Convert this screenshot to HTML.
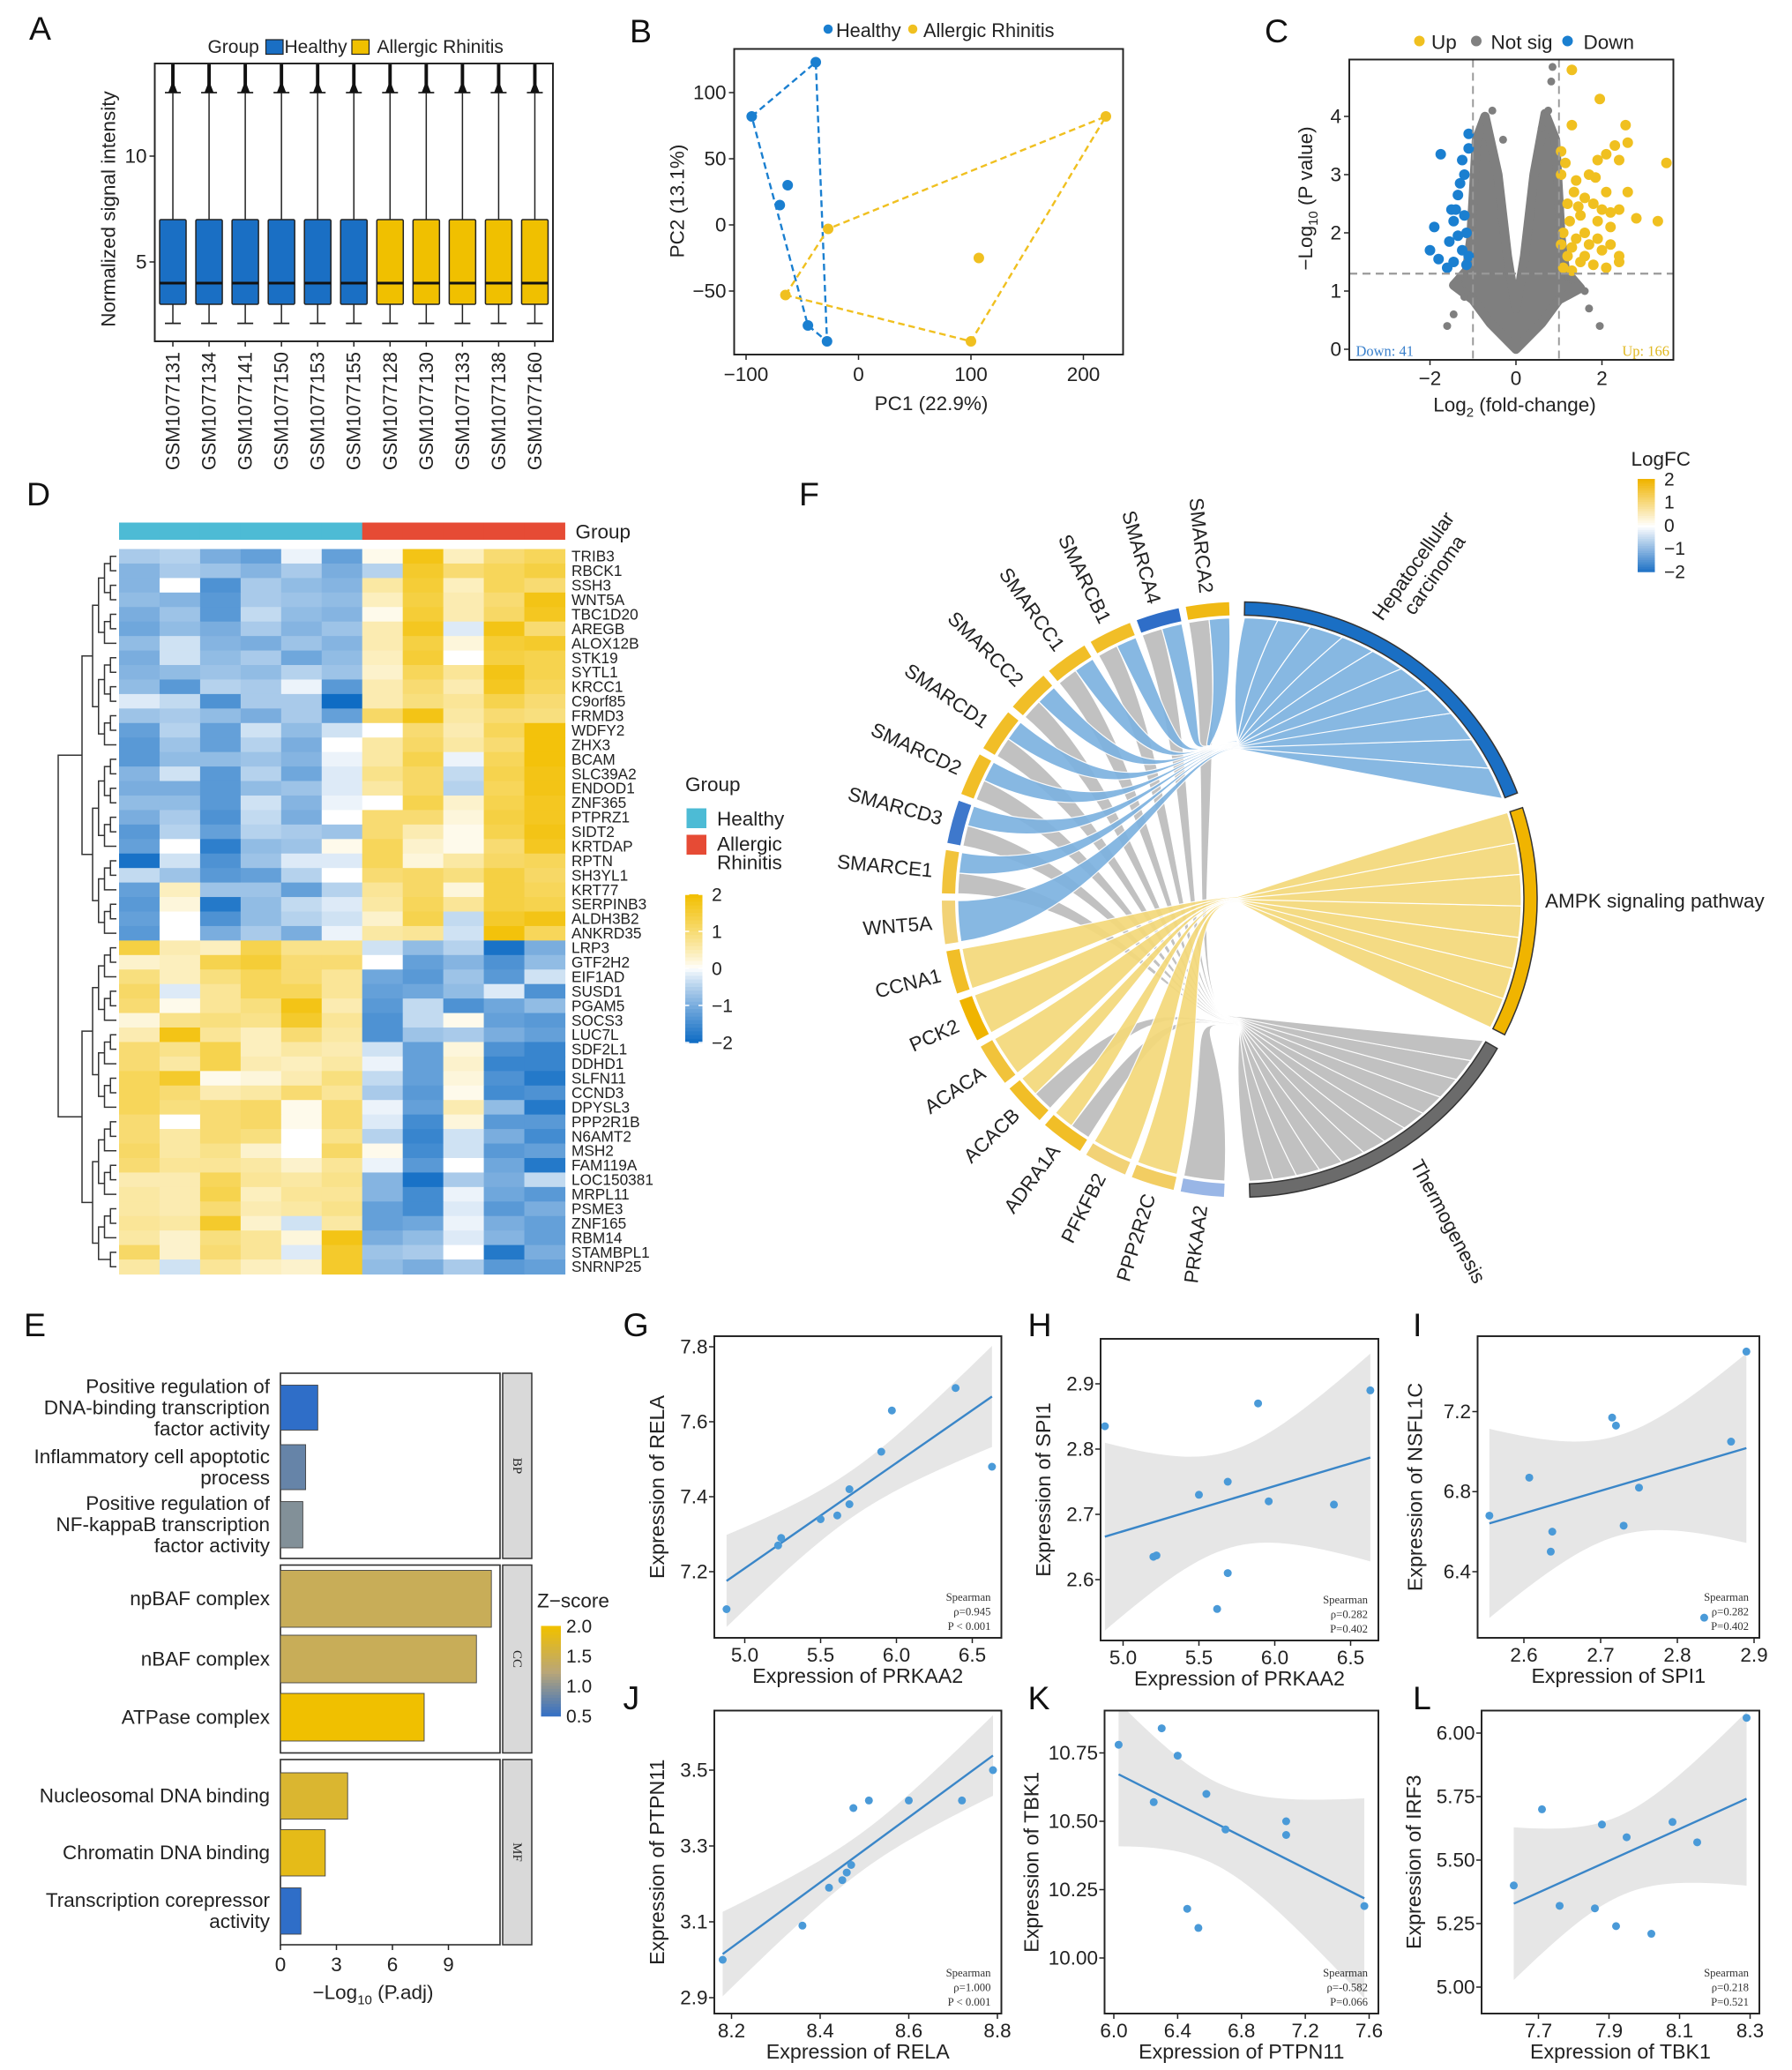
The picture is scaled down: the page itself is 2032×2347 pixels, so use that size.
<!DOCTYPE html>
<html><head><meta charset="utf-8"><style>
html,body{margin:0;padding:0;background:#fff}
svg{display:block;font-family:"Liberation Sans",Arial,sans-serif}
.t{font-size:14px;fill:#222}
.pl{font-size:25px;fill:#111}
.sv{font-family:"Liberation Serif",serif}
</style></head><body>
<svg id="fig" width="2032" height="2347" viewBox="0 0 1354.67 1564.67" xmlns="http://www.w3.org/2000/svg">
<rect width="1354.67" height="1564.67" fill="#fff"/>
<text class="pl" x="22" y="30">A</text>
<text class="pl" x="476" y="32">B</text>
<text class="pl" x="956" y="32">C</text>
<text class="pl" x="20" y="382">D</text>
<text class="pl" x="604" y="382">F</text>
<text class="pl" x="18" y="1010">E</text>
<text class="pl" x="471" y="1010">G</text>
<text class="pl" x="777" y="1010">H</text>
<text class="pl" x="1068" y="1010">I</text>
<text class="pl" x="471" y="1292">J</text>
<text class="pl" x="777" y="1292">K</text>
<text class="pl" x="1068" y="1292">L</text>
<g id="gA"></g>
<g id="gB"></g>
<g id="gC"></g>
<g id="gD"></g>
<g id="gE"></g>
<g id="gF"></g>
<g id="gS"></g>
</svg>
<script>
// ---------- data ----------
const sampleNames=["GSM1077131","GSM1077134","GSM1077141","GSM1077150","GSM1077153","GSM1077155","GSM1077128","GSM1077130","GSM1077133","GSM1077138","GSM1077160"];
const sampleGroup=[0,0,0,0,0,0,1,1,1,1,1];
const boxQ1=[3.0,3.0,3.0,3.0,3.0,3.0,3.0,3.0,3.0,3.0,3.0];
const boxMed=[4.0,4.0,4.0,4.0,4.0,4.0,4.0,4.0,4.0,4.0,4.0];
const boxQ3=[7.0,7.0,7.0,7.0,7.0,7.0,7.0,7.0,7.0,7.0,7.0];
const boxLo=[2.1,2.1,2.1,2.1,2.1,2.1,2.1,2.1,2.1,2.1,2.1];
const boxHi=[13.0,13.0,13.0,13.0,13.0,13.0,13.0,13.0,13.0,13.0,13.0];
const boxMax=[14.4,14.4,14.4,14.4,14.4,14.4,14.4,14.4,14.4,14.4,14.4];
const boxYTicks=[5,10];

const pcaHealthyX=[-95,-38,-28,-45,-63,-70];
const pcaHealthyY=[82,123,-88,-76,30,15];
const pcaARX=[-65,-27,220,100,107];
const pcaARY=[-53,-3,82,-88,-25];
const pcaHullH=[0,1,2,3];
const pcaHullA=[0,1,2,3];
const pcaXTicks=[-100,0,100,200];
const pcaYTicks=[-50,0,50,100];

const upX=[1.3,1.95,1.3,2.55,2.6,2.3,1.05,3.5,2.1,1.9,2.4,1.05,1.85,1.4,2.6,2.1,1.6,2.4,3.3,2.8,1.2,1.5,1.9,2.2,1.1,1.4,1.7,2.0,2.4,2.4,1.2,1.5,1.8,1.1,1.3,2.1,1.6,1.25,1.8,1.35,2.2,1.05,1.15,1.7,1.9,1.3,2.0,1.45,1.6,2.2];
const upY=[4.8,4.3,3.85,3.85,3.55,3.5,3.4,3.2,3.35,3.25,3.25,3.0,2.95,2.9,2.7,2.7,2.6,2.4,2.2,2.25,2.5,2.3,2.2,2.1,2.0,1.9,1.8,1.7,1.6,1.5,1.6,1.5,1.45,1.4,1.35,1.4,2.0,2.2,2.5,2.7,2.35,1.8,3.2,3.0,1.9,1.75,2.4,2.45,1.6,1.8];
const downX=[-1.1,-1.1,-1.75,-1.25,-1.2,-1.3,-1.35,-1.5,-1.4,-1.2,-1.9,-1.45,-1.15,-1.35,-1.55,-2.0,-1.8,-1.45,-1.15,-1.6,-1.25,-1.1];
const downY=[3.7,3.45,3.35,3.25,3.0,2.85,2.65,2.4,2.4,2.3,2.1,2.2,2.0,1.95,1.85,1.7,1.55,1.5,1.45,1.4,1.7,1.6];
const nsShapeX=[0,-0.6,-1.0,-1.45,-1.15,-1.05,-0.98,-0.92,-0.72,-0.42,-0.2,0,0.2,0.42,0.68,0.92,0.98,1.05,1.15,1.5,1.0,0.6];
const nsShapeY=[0,0.45,0.85,1.1,1.35,1.9,2.8,3.6,4.0,3.0,1.6,0.7,1.6,3.0,4.05,3.6,2.8,1.9,1.35,1.05,0.85,0.45];
const nsX=[-0.55,-0.3,0.75,0.85,0.82,-1.45,-1.2,1.3,1.95,1.6,-0.7,0.6,-1.6,1.7,-1.3,1.2];
const nsY=[4.1,3.6,4.1,4.85,4.6,0.6,0.9,1.2,0.4,1.0,3.9,3.8,0.4,0.7,1.25,1.25];
const vXTicks=[-2,0,2];
const vYTicks=[0,1,2,3,4];

const geneRows=["TRIB3","RBCK1","SSH3","WNT5A","TBC1D20","AREGB","ALOX12B","STK19","SYTL1","KRCC1","C9orf85","FRMD3","WDFY2","ZHX3","BCAM","SLC39A2","ENDOD1","ZNF365","PTPRZ1","SIDT2","KRTDAP","RPTN","SH3YL1","KRT77","SERPINB3","ALDH3B2","ANKRD35","LRP3","GTF2H2","EIF1AD","SUSD1","PGAM5","SOCS3","LUC7L","SDF2L1","DDHD1","SLFN11","CCND3","DPYSL3","PPP2R1B","N6AMT2","MSH2","FAM119A","LOC150381","MRPL11","PSME3","ZNF165","RBM14","STAMBPL1","SNRNP25"];
const heatValues=[
[-0.6,-0.5,-1.0,-1.2,-0.1,-1.2,0.1,1.8,0.4,1.0,1.2],
[-0.9,-0.6,-0.7,-0.9,-0.6,-1.0,-0.5,1.6,1.0,1.2,1.4],
[-0.9,0.0,-1.4,-0.6,-0.8,-0.9,0.6,1.5,0.4,1.2,1.0],
[-0.8,-0.9,-1.3,-0.6,-0.7,-0.8,0.4,1.4,0.5,1.0,1.8],
[-1.0,-0.7,-1.3,-0.4,-0.8,-0.9,0.1,1.5,0.5,1.1,1.7],
[-1.1,-0.8,-1.0,-0.6,-0.9,-0.7,0.5,1.7,-0.2,1.8,1.0],
[-0.8,-0.3,-0.9,-1.0,-0.7,-0.9,0.5,1.4,0.2,1.5,1.6],
[-1.0,-0.3,-0.8,-0.6,-1.1,-0.8,0.4,1.5,0.0,1.4,1.3],
[-0.9,-0.8,-0.7,-0.8,-0.5,-0.7,0.3,1.2,0.7,1.8,1.3],
[-0.8,-1.3,-0.5,-0.6,-0.1,-1.3,0.5,1.0,0.5,1.7,1.2],
[-0.2,-0.4,-1.4,-0.6,-0.6,-2.0,0.5,0.9,0.7,1.3,1.0],
[-0.7,-0.6,-0.8,-1.0,-0.6,-1.2,1.1,1.8,0.6,1.0,0.9],
[-1.2,-0.5,-1.2,-0.3,-0.8,-0.3,0.0,1.0,0.5,1.2,1.9],
[-1.3,-0.7,-1.2,-0.5,-1.0,0.0,0.6,1.1,0.6,1.0,1.9],
[-1.3,-0.8,-0.8,-0.7,-0.9,-0.1,0.6,1.3,-0.1,1.2,1.9],
[-0.9,-0.3,-1.3,-0.5,-1.1,-0.2,0.8,1.1,-0.4,1.3,1.8],
[-1.0,-1.0,-1.3,-0.8,-0.7,-0.2,0.6,1.1,-0.5,1.2,1.8],
[-0.8,-0.8,-1.3,-0.3,-0.9,-0.1,0.0,1.3,0.3,1.3,1.7],
[-1.0,-0.6,-1.4,-0.4,-1.0,0.0,1.0,1.0,0.2,1.4,1.7],
[-1.3,-0.5,-1.2,-0.5,-0.6,-0.7,1.0,0.5,0.1,1.3,1.8],
[-1.2,0.0,-1.7,-0.8,-0.7,0.1,1.2,0.3,0.1,1.0,1.7],
[-1.9,-0.3,-1.4,-0.7,-0.2,-0.2,1.2,0.2,0.6,1.1,1.2],
[-0.4,-0.7,-1.3,-1.2,-0.5,0.0,1.0,1.1,0.9,1.4,1.1],
[-1.2,0.4,-0.7,-0.7,-1.2,-0.5,0.7,1.1,0.2,1.4,1.2],
[-1.3,0.2,-1.8,-0.8,-0.4,-0.2,0.6,1.2,0.7,1.4,1.3],
[-1.2,0.0,-1.4,-0.8,-0.5,-0.3,0.3,1.3,-0.4,1.6,1.8],
[-1.3,0.0,-1.0,-0.6,-1.0,-0.1,0.6,0.7,-0.3,1.9,1.2],
[1.4,0.5,0.4,1.3,0.8,0.8,-0.3,-0.8,-0.5,-1.9,-1.0],
[0.3,0.4,1.3,1.5,1.0,1.0,0.0,-1.2,-0.9,-1.4,-0.8],
[0.9,0.4,0.9,1.2,1.0,0.7,-1.1,-1.3,-0.7,-1.3,-0.3],
[1.1,-0.2,0.7,1.2,1.2,0.7,-1.2,-1.1,-0.8,-0.2,-1.4],
[1.0,0.1,0.7,0.9,1.8,0.5,-1.3,-0.4,-1.4,-1.1,-0.8],
[0.2,0.8,0.9,0.8,1.6,0.7,-1.4,-0.4,0.1,-1.2,-1.3],
[0.5,1.8,0.7,0.4,1.0,0.6,-1.4,-0.7,-0.6,-1.0,-1.2],
[1.0,0.8,1.3,0.4,0.6,0.5,-0.3,-1.2,0.2,-1.4,-1.6],
[1.0,0.6,1.3,0.5,0.4,0.6,-0.1,-1.2,0.3,-1.6,-1.6],
[1.2,1.6,0.1,0.2,0.5,0.9,-0.4,-1.2,0.2,-1.4,-1.8],
[1.2,1.0,0.5,0.6,1.0,0.7,-0.6,-1.3,0.1,-1.5,-1.4],
[1.2,0.9,1.0,1.1,0.1,1.0,-0.1,-1.2,0.5,-0.8,-1.8],
[1.0,0.0,1.0,1.1,0.1,1.0,-0.2,-1.5,0.2,-1.3,-1.3],
[1.0,0.6,1.0,0.9,0.0,0.8,-0.5,-1.6,-0.3,-1.0,-1.5],
[1.1,0.6,0.8,0.3,0.0,1.1,0.1,-1.5,-0.3,-1.3,-1.2],
[1.0,0.7,0.7,0.6,0.3,0.7,-0.1,-1.3,0.0,-1.1,-1.8],
[0.5,0.5,1.2,0.7,0.6,0.8,-0.9,-1.9,-0.6,-1.0,-0.4],
[0.6,0.5,1.3,0.4,0.7,0.7,-0.9,-1.5,-0.1,-1.1,-1.3],
[0.6,0.5,1.0,0.5,0.6,0.8,-1.2,-1.5,-0.2,-1.3,-1.0],
[0.7,0.6,1.6,0.3,-0.3,0.6,-1.2,-1.1,-0.1,-1.0,-1.2],
[0.6,0.3,0.9,0.7,0.2,1.8,-1.0,-0.8,-0.2,-0.9,-1.2],
[1.1,0.3,1.0,0.7,-0.2,1.6,-0.7,-0.6,0.0,-1.8,-1.0],
[0.6,-0.3,0.7,0.4,0.3,1.6,-0.8,-1.0,-0.6,-1.3,-1.2]];
const heatLegendTicks=[2,1,0,-1,-2];

const enrichTerms=[["Positive regulation of","DNA-binding transcription","factor activity"],["Inflammatory cell apoptotic","process"],["Positive regulation of","NF-kappaB transcription","factor activity"],["npBAF complex"],["nBAF complex"],["ATPase complex"],["Nucleosomal DNA binding"],["Chromatin DNA binding"],["Transcription corepressor","activity"]];
const enrichValues=[2.0,1.35,1.2,11.3,10.5,7.7,3.6,2.4,1.1];
const enrichZ=[0.5,0.8,0.95,1.45,1.45,2.0,1.7,1.85,0.5];
const enrichFacet=[0,0,0,1,1,1,2,2,2];
const facetNames=["BP","CC","MF"];
const enrichXTicks=[0,3,6,9];
const zTicks=[2.0,1.5,1.0,0.5];

const chordGenes=["PRKAA2","PPP2R2C","PFKFB2","ADRA1A","ACACB","ACACA","PCK2","CCNA1","WNT5A","SMARCE1","SMARCD3","SMARCD2","SMARCD1","SMARCC2","SMARCC1","SMARCB1","SMARCA4","SMARCA2"];
const chordGeneFC=[-0.6,0.8,0.7,1.1,1.1,1.0,1.3,1.1,0.7,1.0,-1.2,1.1,1.1,1.1,1.1,1.1,-1.4,1.2];
const chordPathways=["Hepatocellular carcinoma","AMPK signaling pathway","Thermogenesis"];
const linkGene=[0,1,2,3,3,4,4,5,6,7,8,9,9,10,10,11,11,12,12,13,13,14,14,15,15,16,16,17,17];
const linkPath=[2,1,1,1,2,1,2,1,1,1,0,0,2,0,2,0,2,0,2,0,2,0,2,0,2,0,2,0,2];
const fcTicks=[2,1,0,-1,-2];

const scatterDefs=[
 {id:"g",x:[4.88,5.22,5.24,5.50,5.61,5.69,5.69,5.90,5.97,6.39,6.63],y:[7.10,7.27,7.29,7.34,7.35,7.38,7.42,7.52,7.63,7.69,7.48]},
 {id:"h",x:[4.88,5.20,5.22,5.50,5.62,5.69,5.69,5.89,5.96,6.39,6.63],y:[2.835,2.635,2.637,2.73,2.555,2.75,2.61,2.87,2.72,2.715,2.89]},
 {id:"i",x:[2.555,2.607,2.635,2.637,2.715,2.72,2.73,2.75,2.835,2.87,2.89],y:[6.68,6.87,6.50,6.60,7.17,7.13,6.63,6.82,6.17,7.05,7.50]},
 {id:"j",x:[8.18,8.36,8.42,8.45,8.46,8.47,8.475,8.51,8.60,8.72,8.79],y:[3.00,3.09,3.19,3.21,3.23,3.25,3.40,3.42,3.42,3.42,3.50]},
 {id:"k",x:[6.03,6.25,6.30,6.40,6.46,6.53,6.58,6.70,7.08,7.08,7.57],y:[10.78,10.57,10.84,10.74,10.18,10.11,10.60,10.47,10.50,10.45,10.19]},
 {id:"l",x:[7.63,7.71,7.76,7.86,7.88,7.92,7.95,8.02,8.08,8.15,8.29],y:[5.40,5.70,5.32,5.31,5.64,5.24,5.59,5.21,5.65,5.57,6.06]}];
const scatterXTicks=[[5.0,5.5,6.0,6.5],[5.0,5.5,6.0,6.5],[2.6,2.7,2.8,2.9],[8.2,8.4,8.6,8.8],[6.0,6.4,6.8,7.2,7.6],[7.7,7.9,8.1,8.3]];
const scatterYTicks=[[7.2,7.4,7.6,7.8],[2.6,2.7,2.8,2.9],[6.4,6.8,7.2],[2.9,3.1,3.3,3.5],[10.00,10.25,10.50,10.75],[5.00,5.25,5.50,5.75,6.00]];
const scatterStats=[["0.945","P < 0.001"],["0.282","P=0.402"],["0.282","P=0.402"],["1.000","P < 0.001"],["-0.582","P=0.066"],["0.218","P=0.521"]];
const scatterXTitle=["Expression of PRKAA2","Expression of PRKAA2","Expression of SPI1","Expression of RELA","Expression of PTPN11","Expression of TBK1"];
const scatterYTitle=["Expression of RELA","Expression of SPI1","Expression of NSFL1C","Expression of PTPN11","Expression of TBK1","Expression of IRF3"];

// ---------- helpers ----------
const NS="http://www.w3.org/2000/svg";
function mk(tag,attrs,parent){const e=document.createElementNS(NS,tag);for(const k in attrs)e.setAttribute(k,attrs[k]);parent.appendChild(e);return e;}
function lin(d0,d1,r0,r1){return v=>r0+(v-d0)*(r1-r0)/(d1-d0);}
function txt(parent,x,y,s,size,anchor,extra){const e=mk("text",Object.assign({x:x,y:y,"font-size":size,"text-anchor":anchor||"start",fill:"#222"},extra||{}),parent);e.textContent=s;return e;}
function mix(a,b,t){const pa=[parseInt(a.slice(1,3),16),parseInt(a.slice(3,5),16),parseInt(a.slice(5,7),16)],pb=[parseInt(b.slice(1,3),16),parseInt(b.slice(3,5),16),parseInt(b.slice(5,7),16)];return "rgb("+pa.map((v,i)=>Math.round(v+(pb[i]-v)*t)).join(",")+")";}
function heatCol(v){v=Math.max(-2,Math.min(2,v));return v>=0?mix("#ffffff","#f2bf00",Math.pow(v/2,0.85)):mix("#ffffff","#0f6cc4",Math.pow(-v/2,0.85));}

// ---------- Panel A ----------
(function(){
const g=document.getElementById("gA");
const X0=117,X1=418,Y0=48,Y1=258;
const ys=lin(0,10,278,118);
const step=(X1-X0)/sampleNames.length;
const bw=20;
txt(g,157,40,"Group",14);
let r=mk("rect",{x:201,y:30,width:13,height:11,fill:"#1a6fc4",stroke:"#222","stroke-width":0.8},g);


txt(g,215,40,"Healthy",14);
r=mk("rect",{x:266,y:30,width:13,height:11,fill:"#f0c000",stroke:"#222","stroke-width":0.8},g);


txt(g,285,40,"Allergic Rhinitis",14);
sampleNames.forEach((nm,i)=>{
 const cx=X0+step*(i+0.5);
 const col=sampleGroup[i]?"#f0c000":"#1a6fc4";
 const gb=mk("g",{},g);
 
 
 mk("line",{x1:cx,x2:cx,y1:ys(boxLo[i]),y2:ys(boxHi[i]),stroke:"#222","stroke-width":1},gb);
 mk("line",{x1:cx-6,x2:cx+6,y1:ys(boxLo[i]),y2:ys(boxLo[i]),stroke:"#222","stroke-width":1.2},gb);
 mk("line",{x1:cx-6,x2:cx+6,y1:ys(boxHi[i]),y2:ys(boxHi[i]),stroke:"#222","stroke-width":1.2},gb);
 mk("line",{x1:cx,x2:cx,y1:ys(boxHi[i]),y2:ys(boxMax[i]),stroke:"#111","stroke-width":2.6},gb);
 mk("polygon",{points:(cx-3.5)+","+ys(boxHi[i])+" "+(cx+3.5)+","+ys(boxHi[i])+" "+cx+","+(ys(boxHi[i])-9),fill:"#111"},gb);
 mk("rect",{x:cx-bw/2,y:ys(boxQ3[i]),width:bw,height:ys(boxQ1[i])-ys(boxQ3[i]),fill:col,stroke:"#222","stroke-width":1,rx:1},gb);
 mk("line",{x1:cx-bw/2,x2:cx+bw/2,y1:ys(boxMed[i]),y2:ys(boxMed[i]),stroke:"#111","stroke-width":2},gb);
 mk("line",{x1:cx,x2:cx,y1:Y1,y2:Y1+4,stroke:"#222"},g);
 const t=txt(g,cx+5,Y1+8,nm,14.5,"end",{transform:"rotate(-90 "+(cx+5)+" "+(Y1+8)+")"});
 
 
});
const fr=mk("rect",{x:X0,y:Y0,width:X1-X0,height:Y1-Y0,fill:"none",stroke:"#222","stroke-width":1.3},g);


boxYTicks.forEach(v=>{mk("line",{x1:X0-4,x2:X0,y1:ys(v),y2:ys(v),stroke:"#222"},g);
 const t=txt(g,X0-6,ys(v)+5,String(v),15,"end");
 
 });
const yt=txt(g,87,158,"Normalized signal intensity",15,"middle",{transform:"rotate(-90 87 158)"});


})();

// ---------- Panel B ----------
(function(){
const g=document.getElementById("gB");
const X0=555,X1=849,Y0=37,Y1=268;
const xs=lin(0,100,649,734), ys=lin(0,100,170,70);
mk("circle",{cx:626,cy:22,r:3.5,fill:"#1a7fd0"},g);
txt(g,632,28,"Healthy",14.5);
mk("circle",{cx:690,cy:22,r:3.5,fill:"#f0c020"},g);
txt(g,698,28,"Allergic Rhinitis",14.5);
function hull(px,py,idx,col,name){const p=idx.map(i=>xs(px[i])+","+ys(py[i])).join(" ");
 const e=mk("polygon",{points:p,fill:"none",stroke:col,"stroke-width":1.6,"stroke-dasharray":"5,3"},g);
 
 }
hull(pcaHealthyX,pcaHealthyY,pcaHullH,"#1a7fd0","healthy-hull");
hull(pcaARX,pcaARY,pcaHullA,"#f0c020","ar-hull");
pcaHealthyX.forEach((v,i)=>{const c=mk("circle",{cx:xs(v),cy:ys(pcaHealthyY[i]),r:4,fill:"#1a7fd0"},g);
 
 });
pcaARX.forEach((v,i)=>{const c=mk("circle",{cx:xs(v),cy:ys(pcaARY[i]),r:4,fill:"#f0c020"},g);
 
 });
const fr=mk("rect",{x:X0,y:Y0,width:X1-X0,height:Y1-Y0,fill:"none",stroke:"#222","stroke-width":1.3},g);


pcaXTicks.forEach(v=>{mk("line",{x1:xs(v),x2:xs(v),y1:Y1,y2:Y1+4,stroke:"#222"},g);
 const t=txt(g,xs(v),Y1+20,v<0?"\u2212"+(-v):String(v),15,"middle");
 
 });
pcaYTicks.forEach(v=>{mk("line",{x1:X0-4,x2:X0,y1:ys(v),y2:ys(v),stroke:"#222"},g);
 const t=txt(g,X0-6,ys(v)+5,v<0?"\u2212"+(-v):String(v),15,"end");
 
 });
const xt=txt(g,704,310,"PC1 (22.9%)",15,"middle");


const yt=txt(g,517,152,"PC2 (13.1%)",15,"middle",{transform:"rotate(-90 517 152)"});


})();

// ---------- Panel C ----------
(function(){
const g=document.getElementById("gC");
const X0=1020,X1=1265,Y0=45,Y1=272;
const xs=lin(0,2,1146,1211), ys=lin(0,4,264,88);
mk("circle",{cx:1073,cy:31,r:4,fill:"#f0c020"},g); txt(g,1082,37,"Up",15);
mk("circle",{cx:1116,cy:31,r:4,fill:"#808080"},g); txt(g,1127,37,"Not sig",15);
mk("circle",{cx:1185,cy:31,r:4,fill:"#1a7fd0"},g); txt(g,1197,37,"Down",15);
const cp=mk("clipPath",{id:"clipC"},g); mk("rect",{x:X0,y:Y0,width:X1-X0,height:Y1-Y0},cp);
const inner=mk("g",{"clip-path":"url(#clipC)"},g);
const sh=mk("polygon",{points:nsShapeX.map((v,i)=>xs(v)+","+ys(nsShapeY[i])).join(" "),fill:"#7f7f7f",stroke:"#7f7f7f","stroke-width":7,"stroke-linejoin":"round"},inner);


nsX.forEach((v,i)=>{const c=mk("circle",{cx:xs(v),cy:ys(nsY[i]),r:3,fill:"#7f7f7f"},inner);
 
 });
upX.forEach((v,i)=>{const c=mk("circle",{cx:xs(v),cy:ys(upY[i]),r:4,fill:"#f0c020"},inner);
 
 });
downX.forEach((v,i)=>{const c=mk("circle",{cx:xs(v),cy:ys(downY[i]),r:4,fill:"#1a7fd0"},inner);
 
 });
[-1,1].forEach(v=>mk("line",{x1:xs(v),x2:xs(v),y1:Y0,y2:Y1,stroke:"#999","stroke-width":1.3,"stroke-dasharray":"6,4"},g));
mk("line",{x1:X0,x2:X1,y1:ys(1.3),y2:ys(1.3),stroke:"#999","stroke-width":1.5,"stroke-dasharray":"6,4"},g);
const fr=mk("rect",{x:X0,y:Y0,width:X1-X0,height:Y1-Y0,fill:"none",stroke:"#222","stroke-width":1.3},g);


txt(g,1025,269,"Down: 41",11,"start",{fill:"#3a80cc","class":"sv"});
txt(g,1262,269,"Up: 166",11,"end",{fill:"#e0b820","class":"sv"});
vXTicks.forEach(v=>{mk("line",{x1:xs(v),x2:xs(v),y1:Y1,y2:Y1+4,stroke:"#222"},g);
 const t=txt(g,xs(v),Y1+19,v<0?"\u2212"+(-v):String(v),15,"middle");
 
 });
vYTicks.forEach(v=>{mk("line",{x1:X0-4,x2:X0,y1:ys(v),y2:ys(v),stroke:"#222"},g);
 const t=txt(g,X0-6,ys(v)+5,String(v),15,"end");
 
 });
const xt=mk("text",{x:1145,y:311,"font-size":15,"text-anchor":"middle",fill:"#222"},g);
xt.innerHTML='Log<tspan font-size="10" dy="4">2</tspan><tspan dy="-4"> (fold-change)</tspan>';


const yt=mk("text",{x:992,y:150,"font-size":15,"text-anchor":"middle",fill:"#222",transform:"rotate(-90 992 150)"},g);
yt.innerHTML='\u2212Log<tspan font-size="10" dy="4">10</tspan><tspan dy="-4"> (P value)</tspan>';


})();

// ---------- Panel D ----------
(function(){
const g=document.getElementById("gD");
const X0=90,X1=427,Y0=415,Y1=963;
const cw=(X1-X0)/11, rh=(Y1-Y0)/geneRows.length;
sampleGroup.forEach((s,j)=>{const r=mk("rect",{x:X0+j*cw,y:395,width:cw+0.3,height:13,fill:s?"#e64b35":"#4dbbd5"},g);
 
 });
txt(g,435,407,"Group",15);
heatValues.forEach((row,i)=>{row.forEach((v,j)=>{
 const r=mk("rect",{x:X0+j*cw,y:Y0+i*rh,width:cw+0.4,height:rh+0.4,fill:heatCol(v)},g);
 
 });
 const t=txt(g,432,Y0+i*rh+rh-1.5,geneRows[i],11.5);
 
 });
const dg=mk("g",{stroke:"#333","stroke-width":1,fill:"none"},g);


function yc(i){return Y0+(i+0.5)*rh;}
function clus(a,b,depth){
 if(a===b)return [yc(a),88];
 const m=Math.floor((a+b)/2);
 const L=clus(a,m,depth+1),R=clus(m+1,b,depth+1);
 const x=Math.min(L[1],R[1])-(depth<1?12:(depth<2?8:4.5));
 mk("path",{d:"M"+L[1]+","+L[0]+"H"+x+"V"+R[0]+"H"+R[1]},dg);
 return [(L[0]+R[0])/2,x];}
const A=clus(0,26,1),B=clus(27,49,1);
const rx=44;
mk("path",{d:"M"+A[1]+","+A[0]+"H"+rx+"V"+B[0]+"H"+B[1]},dg);
txt(g,518,598,"Group",15);
mk("rect",{x:519,y:611,width:15,height:15,fill:"#4dbbd5"},g); txt(g,542,624,"Healthy",15);
mk("rect",{x:519,y:631,width:15,height:15,fill:"#e64b35"},g); txt(g,542,643,"Allergic",15); txt(g,542,657,"Rhinitis",15);
const ly=lin(2,-2,676,788);
for(let k=0;k<40;k++){const v=2-k*0.1;mk("rect",{x:518,y:ly(v),width:13,height:ly(v-0.1)-ly(v)+0.5,fill:heatCol(v-0.05)},g);}
heatLegendTicks.forEach(v=>{mk("line",{x1:518,x2:521,y1:ly(v),y2:ly(v),stroke:"#fff"},g);mk("line",{x1:528,x2:531,y1:ly(v),y2:ly(v),stroke:"#fff"},g);
 const t=txt(g,538,ly(v)+5,v<0?"\u2212"+(-v):String(v),14);
 
 });
})();

// ---------- Panel E ----------
(function(){
const g=document.getElementById("gE");
const X0=212,X1=378;
const xs=lin(0,9,212,339);
const facetY=[[1038,1178],[1183,1325],[1330,1470]];
const barY=[[1047,1081],[1092,1126],[1135,1170],[1187,1230],[1236,1272],[1280,1316],[1340,1375],[1383,1418],[1427,1462]];
function zc(z){const t=(z-0.5)/1.5;return t<0.5?mix("#2f6ec8","#b9a678",t/0.5):mix("#b9a678","#f0c000",(t-0.5)/0.5);}
facetY.forEach((f,k)=>{
 const fr=mk("rect",{x:X0,y:f[0],width:X1-X0,height:f[1]-f[0],fill:"none",stroke:"#333","stroke-width":1.1},g);
 
 
 const st=mk("rect",{x:380,y:f[0],width:22,height:f[1]-f[0],fill:"#d9d9d9",stroke:"#333","stroke-width":1},g);
 
 
 const cy=(f[0]+f[1])/2;
 txt(g,391,cy,facetNames[k],10,"middle",{"class":"sv",transform:"rotate(90 391 "+cy+")",dy:"3"});
});
enrichValues.forEach((v,i)=>{
 const b=barY[i];
 const r=mk("rect",{x:X0,y:b[0],width:xs(v)-X0,height:b[1]-b[0],fill:zc(enrichZ[i]),stroke:"#444","stroke-width":0.6},g);
 
 
 const lines=enrichTerms[i], cy=(b[0]+b[1])/2;
 lines.forEach((s,k)=>{const t=txt(g,204,cy+5+(k-(lines.length-1)/2)*16,s,15,"end");
  
  });
});
enrichXTicks.forEach(v=>{mk("line",{x1:xs(v),x2:xs(v),y1:1470,y2:1474,stroke:"#222"},g);
 const t=txt(g,xs(v),1490,String(v),15,"middle");
 
 });
const xt=mk("text",{x:282,y:1511,"font-size":15,"text-anchor":"middle",fill:"#222"},g);
xt.innerHTML='\u2212Log<tspan font-size="10" dy="4">10</tspan><tspan dy="-4"> (P.adj)</tspan>';


txt(g,406,1215,"Z\u2212score",15);
const zy=lin(2.0,0.5,1229,1297);
for(let k=0;k<30;k++){const z=2.0-k*0.05;mk("rect",{x:409,y:zy(z),width:15,height:zy(z-0.05)-zy(z)+0.5,fill:zc(z)},g);}
zTicks.forEach(v=>{const t=txt(g,428,zy(v)+5,v.toFixed(1),14);
 
 });
})();

// ---------- Panel F ----------
(function(){
const g=document.getElementById("gF");
const cx=937,cy=680,Ro=225,Ri=215,Rc=213;
const rad=d=>d*Math.PI/180;
const P=(r,a)=>[cx+r*Math.cos(rad(a)),cy+r*Math.sin(rad(a))];
function arcPath(r1,r2,a1,a2){const p1=P(r2,a1),p2=P(r2,a2),p3=P(r1,a2),p4=P(r1,a1);const lg=(a2-a1)>180?1:0;
 return "M"+p1+"A"+r2+","+r2+" 0 "+lg+" 1 "+p2+"L"+p3+"A"+r1+","+r1+" 0 "+lg+" 0 "+p4+"Z";}
const pathSpan=[[-89,-21],[-18,27],[30,88]];
const pathRing=["#1a6fc4","#f0b400","#6b6b6b"];
const pathChord=["#7db2e0","#f4d97a","#bcbcbc"];
const pinch=[[936,563],[936,680],[936,772]];
const gStart=93,gEnd=268,gGap=1.4;
const gw=(gEnd-gStart-gGap*(chordGenes.length-1))/chordGenes.length;
const gSpan=chordGenes.map((_,i)=>[gStart+i*(gw+gGap),gStart+i*(gw+gGap)+gw]);
function fcCol(v){return v>=0?mix("#f4f4ff","#f0b400",Math.min(1,v/1.3)):mix("#f4f4ff","#2f6ec8",Math.min(1,-v/1.3));}
const gSlot=chordGenes.map(()=>[]), pSlot=[[],[],[]];
linkGene.forEach((gi,k)=>{gSlot[gi].push(k);pSlot[linkPath[k]].push(k);});
const linkA={},linkB={},linkJ={};
gSlot.forEach((ks,gi)=>{ks.sort((x,y)=>linkPath[y]-linkPath[x]);const s=gSpan[gi],w=(s[1]-s[0])/ks.length;ks.forEach((k,j)=>linkA[k]=[s[0]+j*w,s[0]+(j+1)*w]);});
pSlot.forEach((ks,pi)=>{ks.sort((x,y)=>{const ax=(linkA[x][0]+linkA[x][1]),ay=(linkA[y][0]+linkA[y][1]);return ay-ax;});const s=pathSpan[pi],w=(s[1]-s[0])/ks.length;ks.forEach((k,j)=>{linkB[k]=[s[0]+j*w,s[0]+(j+1)*w];linkJ[k]=j-(ks.length-1)/2;});});
const chords=mk("g",{},g);
function toward(p,q,t){return [p[0]+(q[0]-p[0])*t,p[1]+(q[1]-p[1])*t];}
[2,1,0].forEach(pi=>{linkPath.forEach((p,k)=>{if(p!==pi)return;
 const A=linkA[k],B=linkB[k],K=pinch[pi],o=linkJ[k]*0.6;
 const a1=P(Rc,A[0]),a2=P(Rc,A[1]),b1=P(Rc,B[0]),b2=P(Rc,B[1]);
 const Ka=[K[0]+o*0.3,K[1]+o-0.5],Kb=[K[0]+o*0.3,K[1]+o+0.5];
 const ca=[K[0]-45,K[1]];
 const c1a=toward(a2,[cx,cy],0.55),c1b=toward(a1,[cx,cy],0.55);
 const cb1=[(Ka[0]+b1[0])/2-8,(Ka[1]+b1[1])/2],cb2=[(Kb[0]+b2[0])/2-8,(Kb[1]+b2[1])/2];
 const d="M"+a1+"A"+Rc+","+Rc+" 0 0 1 "+a2+"C"+c1a+" "+ca+" "+Ka+"Q"+cb1+" "+b1+"A"+Rc+","+Rc+" 0 0 1 "+b2+"Q"+cb2+" "+Kb+"C"+ca+" "+c1b+" "+a1+"Z";
 const e=mk("path",{d:d,fill:pathChord[pi],stroke:"#fff","stroke-width":0.8,opacity:0.92},chords);
 
 });});
pathSpan.forEach((s,pi)=>{const e=mk("path",{d:arcPath(Ri,Ro,s[0],s[1]),fill:pathRing[pi],stroke:"#333","stroke-width":1},g);
 
 });
gSpan.forEach((s,gi)=>{const e=mk("path",{d:arcPath(Ri,Ro,s[0],s[1]),fill:fcCol(chordGeneFC[gi])},g);
 
 
 const m=(s[0]+s[1])/2,p=P(Ro+8,m);
 const t=txt(g,p[0],p[1],chordGenes[gi],15,"end",{transform:"rotate("+(m-180)+" "+p[0]+" "+p[1]+")",dy:"5"});
 
 });
const t1=mk("text",{x:1045,y:470,"font-size":15,fill:"#222",transform:"rotate(-55 1045 470)"},g);
t1.innerHTML='<tspan x="1045" dy="0">Hepatocellular</tspan><tspan x="1062" dy="17">carcinoma</tspan>';


const t2=txt(g,1168,686,"AMPK signaling pathway",15);


const t3=txt(g,1066,880,"Thermogenesis",15,"start",{transform:"rotate(62 1066 880)"});


txt(g,1233,352,"LogFC",15);
const ly=lin(2,-2,362,432);
for(let k=0;k<40;k++){const v=2-k*0.1;mk("rect",{x:1238,y:ly(v),width:13,height:ly(v-0.1)-ly(v)+0.5,fill:v>=0?mix("#ffffff","#f0b400",v/2):mix("#ffffff","#1a6fc4",-v/2)},g);}
fcTicks.forEach(v=>{const t=txt(g,1258,ly(v)+5,v<0?"\u2212"+(-v):String(v),14);
 
 });
})();

// ---------- Scatter panels ----------
(function(){
const g=document.getElementById("gS");
const boxes=[[540,757,1010,1238],[832,1042,1012,1240],[1117,1330,1010,1238],[540,757,1293,1522],[835,1042,1293,1522],[1120,1330,1293,1522]];
const xmap=[[5.0,563,6.5,735],[5.0,849,6.5,1021],[2.6,1152,2.9,1326],[8.2,553,8.8,754],[6.0,842,7.6,1035],[7.7,1163,8.3,1323]];
const ymap=[[7.2,1188,7.8,1018],[2.6,1194,2.9,1046],[6.4,1188,7.2,1067],[2.9,1510,3.5,1338],[10.0,1480,10.75,1325],[5.0,1502,6.0,1310]];
const ytOff=[38,38,42,38,50,46];
scatterDefs.forEach((d,si)=>{
 const [X0,X1,Y0,Y1]=boxes[si];
 const xs=lin(xmap[si][0],xmap[si][2],xmap[si][1],xmap[si][3]);
 const ys=lin(ymap[si][0],ymap[si][2],ymap[si][1],ymap[si][3]);
 const pg=mk("g",{},g);
 
 
 const cid="clipS"+si;
 const cp=mk("clipPath",{id:cid},pg); mk("rect",{x:X0,y:Y0,width:X1-X0,height:Y1-Y0},cp);
 const inner=mk("g",{"clip-path":"url(#"+cid+")"},pg);
 const n=d.x.length,xm=d.x.reduce((a,b)=>a+b)/n,ym=d.y.reduce((a,b)=>a+b)/n;
 let sxx=0,sxy=0;d.x.forEach((x,i)=>{sxx+=(x-xm)**2;sxy+=(x-xm)*(d.y[i]-ym);});
 const b=sxy/sxx,a0=ym-b*xm;
 let sse=0;d.x.forEach((x,i)=>{sse+=(d.y[i]-a0-b*x)**2;});
 const s=Math.sqrt(sse/(n-2)),tq=2.26;
 const xmin=Math.min(...d.x),xmax=Math.max(...d.x);
 const up=[],lo=[];
 for(let k=0;k<=40;k++){const x=xmin+(xmax-xmin)*k/40,f=a0+b*x,h=tq*s*Math.sqrt(1/n+(x-xm)**2/sxx);up.push(xs(x)+","+ys(f+h));lo.unshift(xs(x)+","+ys(f-h));}
 const band=mk("polygon",{points:up.concat(lo).join(" "),fill:"#e6e6e6"},inner);
 
 
 const ln=mk("line",{x1:xs(xmin),y1:ys(a0+b*xmin),x2:xs(xmax),y2:ys(a0+b*xmax),stroke:"#3a86c8","stroke-width":1.6},inner);
 
 
 d.x.forEach((x,i)=>{const c=mk("circle",{cx:xs(x),cy:ys(d.y[i]),r:3,fill:"#4a9ad8"},inner);
  
  });
 const fr=mk("rect",{x:X0,y:Y0,width:X1-X0,height:Y1-Y0,fill:"none",stroke:"#222","stroke-width":1.3},pg);
 
 
 scatterXTicks[si].forEach(v=>{mk("line",{x1:xs(v),x2:xs(v),y1:Y1,y2:Y1+4,stroke:"#222"},pg);
  const t=txt(pg,xs(v),Y1+18,v.toFixed(1),15,"middle");
  
  });
 scatterYTicks[si].forEach(v=>{mk("line",{x1:X0-4,x2:X0,y1:ys(v),y2:ys(v),stroke:"#222"},pg);
  const t=txt(pg,X0-5,ys(v)+5,(si>=4?v.toFixed(2):v.toFixed(1)),15,"end");
  
  });
 const xt=txt(pg,(X0+X1)/2,Y1+34,scatterXTitle[si],15.5,"middle");
 
 
 const yx=X0-ytOff[si],yy=(Y0+Y1)/2;
 const yt=txt(pg,yx,yy,scatterYTitle[si],15.5,"middle",{transform:"rotate(-90 "+yx+" "+yy+")"});
 
 
 const st=mk("text",{x:X1-8,y:Y1-28,"font-size":8.5,"text-anchor":"end",fill:"#333","class":"sv"},pg);
 st.innerHTML='<tspan x="'+(X1-8)+'" dy="0">Spearman</tspan><tspan x="'+(X1-8)+'" dy="11">\u03c1='+scatterStats[si][0]+'</tspan><tspan x="'+(X1-8)+'" dy="11">'+scatterStats[si][1]+'</tspan>';
 
 
});
})();
</script>
</body></html>
